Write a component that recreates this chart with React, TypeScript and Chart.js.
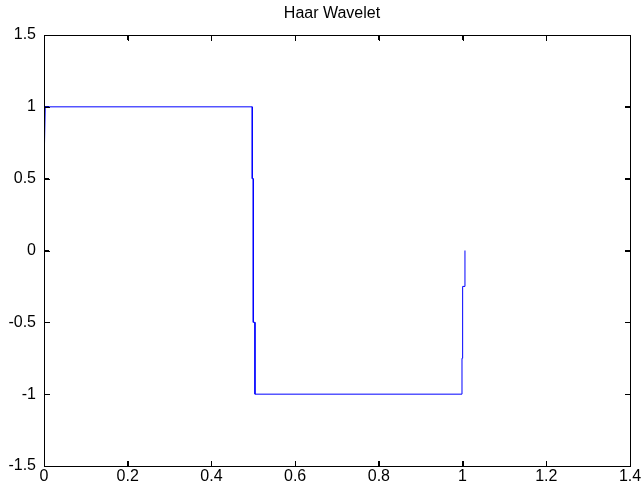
import React, { useEffect, useRef } from "react";
import { Chart, registerables } from "chart.js";

Chart.register(...registerables);

const TITLE = "Haar Wavelet";
const xValues = [0.001, 0.003, 0.008, 0.4976, 0.4976, 0.5, 0.5, 0.504, 0.504, 0.9986, 0.9986, 1.0002, 1.0002, 1.0057, 1.0057];
const yValues = [0.71, 1.0, 1.0, 1.0, 0.5, 0.5, -0.5, -0.5, -1.0, -1.0, -0.75, -0.75, -0.25, -0.25, 0.0];
const xTicks = [0, 0.2, 0.4, 0.6, 0.8, 1, 1.2, 1.4];
const yTicks = [-1.5, -1, -0.5, 0, 0.5, 1, 1.5];

const FONT = "'Liberation Sans', Arial, sans-serif";
const AXIS = "#000000";

const framePlugin = {
  id: "matlabFrame",
  afterDraw(chart: any) {
    const ctx = chart.ctx as CanvasRenderingContext2D;
    const xs = chart.scales.x;
    const ys = chart.scales.y;
    const L = Math.round(xs.getPixelForValue(0));
    const R = Math.round(xs.getPixelForValue(1.4));
    const T = Math.round(ys.getPixelForValue(1.5));
    const B = Math.round(ys.getPixelForValue(-1.5));
    ctx.save();
    ctx.fillStyle = AXIS;
    ctx.fillRect(L, T, R - L + 1, 1);
    ctx.fillRect(L, B, R - L + 1, 1);
    ctx.fillRect(L, T, 1, B - T + 1);
    ctx.fillRect(R, T, 1, B - T + 1);
    const tl = 5;
    xTicks.forEach((v) => {
      const px = Math.round(xs.getPixelForValue(v));
      ctx.fillRect(px, B - tl, 1, tl);
      ctx.fillRect(px, T + 1, 1, tl);
    });
    yTicks.forEach((v) => {
      const py = Math.round(ys.getPixelForValue(v));
      ctx.fillRect(L + 1, py, tl, 1);
      ctx.fillRect(R - tl, py, tl, 1);
    });
    ctx.fillStyle = "#000";
    ctx.font = `16px ${FONT}`;
    ctx.textAlign = "center";
    ctx.textBaseline = "middle";
    ctx.fillText(TITLE, 332, 14);
    ctx.restore();
  },
};

const fmt = (v: any) => String(Number(Number(v).toFixed(2)));

const tickGrid = { display: true, drawOnChartArea: false, drawTicks: true, tickLength: -5, color: AXIS, lineWidth: 1 };
const axisBorder = { display: true, color: AXIS, width: 1 };

export default function App() {
  const ref = useRef<HTMLCanvasElement | null>(null);
  useEffect(() => {
    document.body.style.margin = "0";
    const canvas = ref.current;
    if (!canvas) return;
    const data = xValues.map((x, i) => ({ x, y: yValues[i] }));
    const chart = new Chart(canvas, {
      type: "scatter",
      data: {
        datasets: [
          {
            data,
            showLine: true,
            borderColor: "#0000ff",
            borderWidth: 1,
            pointRadius: 0,
            tension: 0,
            fill: false,
          },
        ],
      },
      options: {
        responsive: false,
        animation: false,
        events: [],
        layout: { padding: { top: 35, right: 13, left: 0, bottom: 0 } },
        plugins: { legend: { display: false }, title: { display: false }, tooltip: { enabled: false } },
        scales: {
          x: {
            type: "linear",
            position: "bottom",
            min: 0,
            max: 1.4,
            afterFit: (s: any) => { s.height = 22; s.paddingLeft = 0; s.paddingRight = 0; },
            afterBuildTicks: (s: any) => { s.ticks = xTicks.map((v) => ({ value: v })); },
            grid: tickGrid,
            border: axisBorder,
            ticks: {
              autoSkip: false,
              maxRotation: 0,
              padding: 6,
              color: "#000",
              font: { family: FONT, size: 16 },
              callback: fmt,
            },
          },
          x2: {
            type: "linear",
            position: "top",
            min: 0,
            max: 1.4,
            afterFit: (s: any) => { s.height = 0; s.paddingLeft = 0; s.paddingRight = 0; },
            afterBuildTicks: (s: any) => { s.ticks = xTicks.map((v) => ({ value: v })); },
            grid: tickGrid,
            border: axisBorder,
            ticks: { display: false },
          },
          y: {
            type: "linear",
            position: "left",
            min: -1.5,
            max: 1.5,
            afterFit: (s: any) => { s.width = 44; s.paddingTop = 0; s.paddingBottom = 0; },
            afterBuildTicks: (s: any) => { s.ticks = yTicks.map((v) => ({ value: v })); },
            grid: tickGrid,
            border: axisBorder,
            ticks: {
              autoSkip: false,
              padding: 13,
              color: "#000",
              font: { family: FONT, size: 16 },
              callback: fmt,
            },
          },
          y2: {
            type: "linear",
            position: "right",
            min: -1.5,
            max: 1.5,
            afterFit: (s: any) => { s.width = 0; s.paddingTop = 0; s.paddingBottom = 0; },
            afterBuildTicks: (s: any) => { s.ticks = yTicks.map((v) => ({ value: v })); },
            grid: tickGrid,
            border: axisBorder,
            ticks: { display: false },
          },
        },
      },
      plugins: [framePlugin],
    });
    return () => chart.destroy();
  }, []);
  return (
    <div style={{ position: "fixed", left: 0, top: 0, width: 643, height: 488, background: "#fff" }}>
      <canvas ref={ref} width={643} height={488} style={{ width: 643, height: 488 }} />
    </div>
  );
}
